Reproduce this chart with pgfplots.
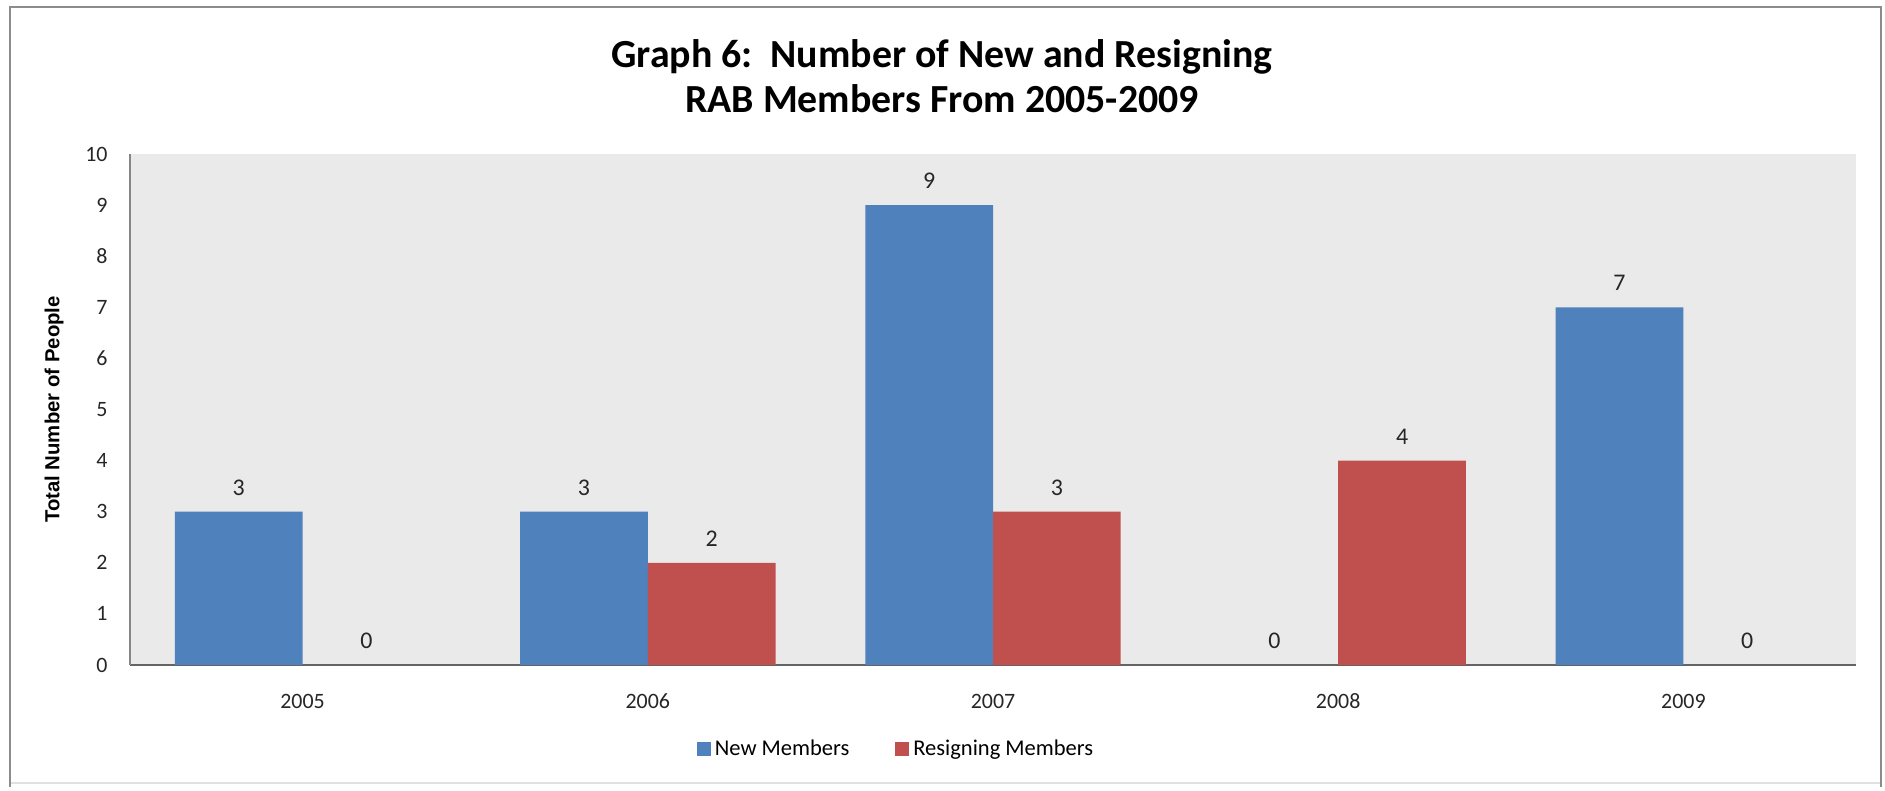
\documentclass[border=0pt]{standalone}
\usepackage{fontspec}
\setmainfont{Carlito}
\newfontfamily\arialfont{Liberation Sans}
\usepackage{pgfplots}
\pgfplotsset{compat=1.18}
\definecolor{newblue}{RGB}{79,129,189}
\definecolor{resred}{RGB}{192,80,77}
\definecolor{plotbg}{RGB}{234,234,234}
\definecolor{framegray}{RGB}{140,140,140}
\pgfkeys{/pgf/number format/assume math mode=true}
\begin{document}
\begin{tikzpicture}
\path[use as bounding box] (0,0) rectangle (942.5bp,395.5bp);
\draw[line width=1bp, color=black!12] (5bp,4bp) -- (940.5bp,4bp);
\draw[line width=1bp, color=framegray] (5bp,2bp) -- (5bp,392bp) -- (940.5bp,392bp) -- (940.5bp,2bp);
\node[font=\fontsize{20}{22.5}\selectfont\bfseries, align=center] at (471bp,357.25bp)
  {Graph 6:\ \ Number of New and Resigning\\RAB Members From 2005-2009};
\begin{axis}[
  at={(65bp,63bp)}, anchor=south west,
  scale only axis, width=863bp, height=255.5bp,
  ybar=0pt, bar width=0.37,
  xmin=-0.5, xmax=4.5, ymin=0, ymax=10,
  xtick={0,1,2,3,4}, xticklabels={2005,2006,2007,2008,2009},
  ytick={0,1,...,10},
  axis x line=bottom, axis y line=left,
  x axis line style={-, draw={rgb,255:red,100;green,100;blue,100}, line width=1bp},
  y axis line style={-, draw={rgb,255:red,134;green,134;blue,134}, line width=1bp},
  major tick length=0pt,
  axis background/.style={fill=plotbg},
  tick label style={font=\fontsize{11}{13}\selectfont, text=black!85},
  yticklabel style={anchor=east, inner sep=0pt, xshift=-11bp},
  xticklabel style={anchor=center, inner sep=0pt, yshift=-18bp},
  ylabel={Total Number of People},
  ylabel style={at={(axis description cs:-0.044,0.5)}, anchor=center, font=\arialfont\bfseries\fontsize{10.2}{12}\selectfont},
  nodes near coords,
  every node near coord/.append style={font=\fontsize{12}{14}\selectfont, text=black!85, anchor=south, inner sep=0pt, yshift=8bp},
  legend style={draw=none, fill=none, legend columns=2, at={(0.4444,-0.1644)}, anchor=center,
    font=\fontsize{11.3}{13}\selectfont, /tikz/every even column/.append style={column sep=21bp}},
  legend cell align=left,
]
\addplot[fill=newblue, draw=none, legend image code/.code={\fill[newblue] (0bp,-3.5bp) rectangle (7bp,3.5bp);}]
  coordinates {(0,3) (1,3) (2,9) (3,0) (4,7)};
\addplot[fill=resred, draw=none, legend image code/.code={\fill[resred] (0bp,-3.5bp) rectangle (7bp,3.5bp);}]
  coordinates {(0,0) (1,2) (2,3) (3,4) (4,0)};
\legend{New Members, Resigning Members}
\end{axis}
\end{tikzpicture}
\end{document}
